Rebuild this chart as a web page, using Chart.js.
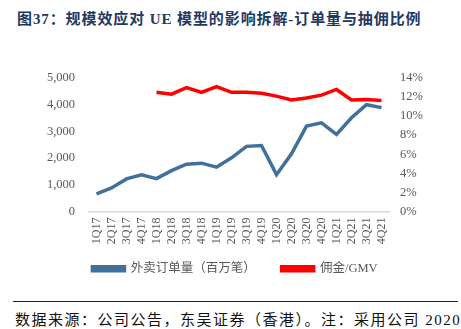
<!DOCTYPE html>
<html>
<head>
<meta charset="utf-8">
<script src="https://cdn.jsdelivr.net/npm/chart.js@4.4.1/dist/chart.umd.min.js"></script>
<style>
  html, body { margin: 0; padding: 0; background: #fff; }
  body { width: 461px; height: 329px; position: relative; overflow: hidden; }
  #title {
    position: absolute; left: 17px; top: 7px; white-space: nowrap; letter-spacing: 0.9px;
    font: bold 15px "Liberation Serif", "Noto Sans CJK SC", serif;
    color: #1f3864;
  }
  #box { position: absolute; left: 0; top: 55px; width: 461px; height: 245px; }
  #rule { position: absolute; left: 13px; top: 301px; width: 445px; height: 0; border-top: 1.5px solid #222; }
  #note {
    position: absolute; left: 15px; top: 308px; white-space: nowrap; letter-spacing: 1.5px;
    font: 15px "Liberation Serif", "Noto Sans CJK SC", serif; color: #111;
  }
</style>
</head>
<body>
<div id="title">图37：规模效应对 UE 模型的影响拆解-订单量与抽佣比例</div>
<div id="box"><canvas id="chart"></canvas></div>
<div id="rule"></div>
<div id="note">数据来源：公司公告，东吴证券（香港）。注：采用公司 2020</div>
<script>
const quarters = ['1Q17', '2Q17', '3Q17', '4Q17', '1Q18', '2Q18', '3Q18', '4Q18', '1Q19', '2Q19',
                  '3Q19', '4Q19', '1Q20', '2Q20', '3Q20', '4Q20', '1Q21', '2Q21', '3Q21', '4Q21'];
// 外卖订单量, 百万笔
const orders = [660, 880, 1220, 1370, 1230, 1530, 1770, 1810, 1660, 2010,
                2440, 2470, 1380, 2160, 3200, 3320, 2890, 3510, 4000, 3890];
// 佣金/GMV, %
const takeRate = [null, null, null, null, 12.5, 12.3, 13.0, 12.5, 13.1, 12.5,
                  12.5, 12.4, 12.1, 11.7, 11.9, 12.2, 12.8, 11.7, 11.75, 11.65];

const BLUE = '#41709c';
const RED = '#ff0000';
const GREY = '#595959';

Chart.defaults.font.family = '"Liberation Serif", "Noto Sans CJK SC", serif';
Chart.defaults.color = GREY;

// the wide label padding also pads the legend vertically; pull it back up
const liftLegend = {
  id: 'liftLegend',
  afterLayout(chart) { chart.legend.top -= 15; }
};

new Chart(document.getElementById('chart'), {
  type: 'line',
  data: {
    labels: quarters,
    datasets: [
      {
        label: '外卖订单量（百万笔）',
        data: orders,
        yAxisID: 'y',
        borderColor: BLUE,
        backgroundColor: BLUE,
        borderWidth: 3.5,
        pointRadius: 0,
        tension: 0
      },
      {
        label: '佣金/GMV',
        data: takeRate,
        yAxisID: 'y1',
        borderColor: RED,
        backgroundColor: RED,
        borderWidth: 3.5,
        pointRadius: 0,
        tension: 0
      }
    ]
  },
  plugins: [liftLegend],
  options: {
    responsive: true,
    maintainAspectRatio: false,
    animation: false,
    devicePixelRatio: 1,
    // left padding nudges the centred legend to the right
    layout: { padding: { top: 23, left: 9, right: 0, bottom: 0 } },
    plugins: {
      tooltip: { enabled: false },
      legend: {
        position: 'bottom',
        labels: {
          boxWidth: 32,
          boxHeight: 4,
          padding: 26,
          color: GREY,
          font: { size: 12.5 }
        }
      }
    },
    scales: {
      x: {
        offset: true,
        grid: { display: false, drawTicks: false },
        border: { display: true, color: '#d9d9d9', width: 1.5 },
        ticks: { maxRotation: 90, minRotation: 90, autoSkip: false, padding: 6, font: { size: 12 } },
        afterFit(scale) { scale.height = 40; }
      },
      y: {
        position: 'left',
        min: 0, max: 5000,
        grid: { display: false, drawTicks: false },
        border: { display: false },
        ticks: {
          stepSize: 1000, padding: 14, font: { size: 12.5 },
          callback: v => v.toLocaleString('en-US')
        },
        afterFit(scale) { scale.width = 80; }
      },
      y1: {
        position: 'right',
        min: 0, max: 14,
        grid: { display: false, drawTicks: false },
        border: { display: false },
        ticks: { stepSize: 2, padding: 11, font: { size: 12.5 }, callback: v => v + '%' },
        afterFit(scale) { scale.width = 72; }
      }
    }
  }
});
</script>
</body>
</html>
